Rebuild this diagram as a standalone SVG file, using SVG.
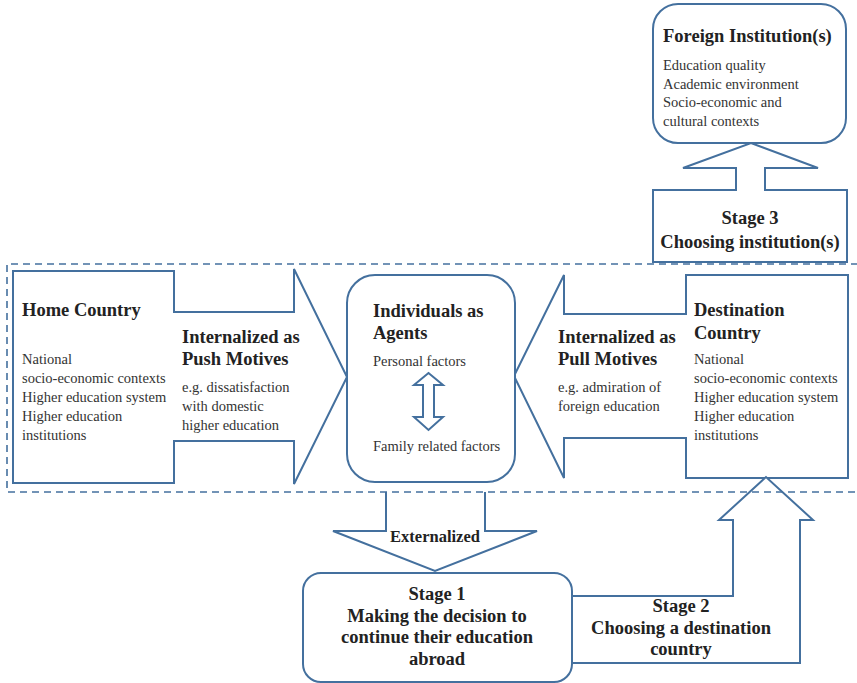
<svg xmlns="http://www.w3.org/2000/svg" width="857" height="683" viewBox="0 0 857 683">
<style>
.s{fill:#fff;stroke:#44709e;stroke-width:2;stroke-linejoin:miter}
.o{fill:none;stroke:#44709e;stroke-width:2}
.d{fill:none;stroke:#44709e;stroke-width:1.6;stroke-dasharray:7 5}
.h{font-family:"Liberation Serif","Times New Roman",serif;font-weight:bold;font-size:18.5px;fill:#222}
.e{font-family:"Liberation Serif","Times New Roman",serif;font-weight:bold;font-size:16.5px;fill:#222}
.b{font-family:"Liberation Serif","Times New Roman",serif;font-size:14.5px;fill:#333}
.c{text-anchor:middle}
</style>
<rect width="857" height="683" fill="#fff"/>
<g id="connectors">
<path class="s" d="M653,190 H736 V168 H683 L751,143 L818,168 H765 V190 H847 V262 H653 Z"/>
<path class="s" d="M13,271 H174 V312 H294 V269 L347,377 L294,484 V441 H174 V483 H13 Z"/>
<path class="s" d="M848,275 V478 H686 V438 H564 V478 L514,376 L564,275 V314 H686 V275 Z"/>
<path class="s" d="M386,492 V531 H333 L435,571 L537,531 H485 V492"/>
<path class="s" d="M572,596 H733 V520 H719 L766,477 L813,520 H800 V663 H572"/>
</g>
<path class="d" d="M870,264 H7 V492 H870"/>
<g id="foreign">
<rect class="s" x="653" y="4" width="193" height="139" rx="25"/>
<text class="h" x="663" y="42">Foreign Institution(s)</text>
<text class="b" x="663" y="70">Education quality</text>
<text class="b" x="663" y="88.5">Academic environment</text>
<text class="b" x="663" y="107">Socio-economic and</text>
<text class="b" x="663" y="125.5">cultural contexts</text>
</g>
<g id="stage3">
<text class="h c" x="750" y="224">Stage 3</text>
<text class="h c" x="750" y="248">Choosing institution(s)</text>
</g>
<g id="home">
<text class="h" x="22" y="316">Home Country</text>
<text class="b" x="22" y="364">National</text>
<text class="b" x="22" y="383">socio-economic contexts</text>
<text class="b" x="22" y="402">Higher education system</text>
<text class="b" x="22" y="421">Higher education</text>
<text class="b" x="22" y="440">institutions</text>
</g>
<g id="push">
<text class="h" x="182" y="343">Internalized as</text>
<text class="h" x="182" y="365">Push Motives</text>
<text class="b" x="182" y="392">e.g. dissatisfaction</text>
<text class="b" x="182" y="411">with domestic</text>
<text class="b" x="182" y="430">higher education</text>
</g>
<g id="agents">
<rect class="s" x="347" y="275" width="168" height="207" rx="28"/>
<text class="h" x="373" y="317">Individuals as</text>
<text class="h" x="373" y="339">Agents</text>
<text class="b" x="373" y="366">Personal factors</text>
<path class="s" d="M428.5,373 L443,385 H434 V417 H443 L428.5,430 L414,417 H423 V385 H414 Z"/>
<text class="b" x="373" y="451">Family related factors</text>
</g>
<g id="pull">
<text class="h" x="558" y="343">Internalized as</text>
<text class="h" x="558" y="365">Pull Motives</text>
<text class="b" x="558" y="392">e.g. admiration of</text>
<text class="b" x="558" y="411">foreign education</text>
</g>
<g id="destination">
<text class="h" x="694" y="316">Destination</text>
<text class="h" x="694" y="339">Country</text>
<text class="b" x="694" y="364">National</text>
<text class="b" x="694" y="383">socio-economic contexts</text>
<text class="b" x="694" y="402">Higher education system</text>
<text class="b" x="694" y="421">Higher education</text>
<text class="b" x="694" y="440">institutions</text>
</g>
<g id="externalized">
<text class="e c" x="435" y="542">Externalized</text>
</g>
<g id="stage1">
<rect class="s" x="303" y="573" width="269" height="109" rx="18"/>
<text class="h c" x="437" y="600">Stage 1</text>
<text class="h c" x="437" y="622">Making the decision to</text>
<text class="h c" x="437" y="643">continue their education</text>
<text class="h c" x="437" y="665">abroad</text>
</g>
<g id="stage2">
<text class="h c" x="681" y="612">Stage 2</text>
<text class="h c" x="681" y="634">Choosing a destination</text>
<text class="h c" x="681" y="655">country</text>
</g>
</svg>
